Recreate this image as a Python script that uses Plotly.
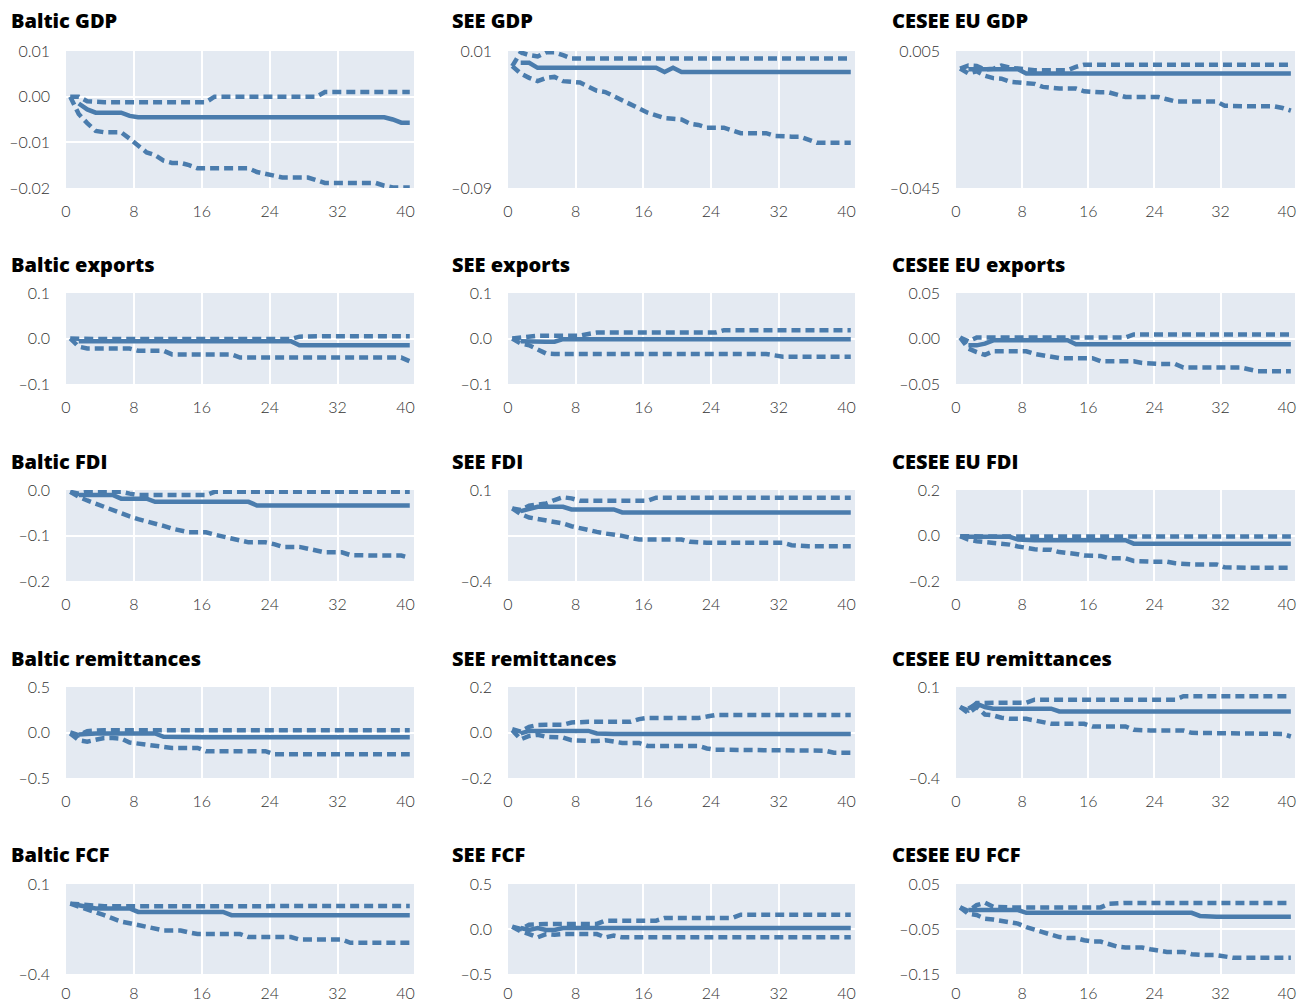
import plotly.graph_objects as go

# Horizon (quarters) and x-axis tick labels
periods = list(range(41))
x_tick_labels = [0, 8, 16, 24, 32, 40]

# ---------------- Baltic GDP ----------------
baltic_gdp_upper = [0, 0, -0.001, -0.0012, -0.0012, -0.0012, -0.0012, -0.0012, -0.0012, -0.0012,
                    -0.0012, -0.0012, -0.0012, -0.0012, -0.0012, -0.0012, -0.0012, 0, 0, 0,
                    0, 0, 0, 0, 0, 0, 0, 0, 0, 0,
                    0.001, 0.001, 0.001, 0.001, 0.001, 0.001, 0.001, 0.001, 0.001, 0.001, 0.001]
baltic_gdp_median = [None, -0.0015, -0.0028, -0.0035, -0.0035, -0.0035, -0.0035, -0.0042, -0.0045, -0.0045,
                     -0.0045, -0.0045, -0.0045, -0.0045, -0.0045, -0.0045, -0.0045, -0.0045, -0.0045, -0.0045,
                     -0.0045, -0.0045, -0.0045, -0.0045, -0.0045, -0.0045, -0.0045, -0.0045, -0.0045, -0.0045,
                     -0.0045, -0.0045, -0.0045, -0.0045, -0.0045, -0.0045, -0.0045, -0.0045, -0.005, -0.0057, -0.0057]
baltic_gdp_lower = [0, -0.0038, -0.0058, -0.0075, -0.0078, -0.0078, -0.0078, -0.0092, -0.0108, -0.0122,
                    -0.0128, -0.014, -0.0145, -0.0145, -0.015, -0.0157, -0.0157, -0.0157, -0.0157, -0.0157,
                    -0.0157, -0.0157, -0.0165, -0.0168, -0.0173, -0.0177, -0.0177, -0.0177, -0.0177, -0.0183,
                    -0.0189, -0.0189, -0.0189, -0.0189, -0.0189, -0.0189, -0.0189, -0.0195, -0.0199, -0.0199, -0.0199]

# ---------------- SEE GDP ----------------
see_gdp_upper = [-0.001, 0.009, 0.007, 0.006, 0.009, 0.009, 0.007, 0.0045, 0.0045, 0.0045,
                 0.0045, 0.0045, 0.0045, 0.0045, 0.0045, 0.0045, 0.0045, 0.0045, 0.0045, 0.0045,
                 0.0045, 0.0045, 0.0045, 0.0045, 0.0045, 0.0045, 0.0045, 0.0045, 0.0045, 0.0045,
                 0.0045, 0.0045, 0.0045, 0.0045, 0.0045, 0.0045, 0.0045, 0.0045, 0.0045, 0.0045, 0.0045]
see_gdp_median = [None, 0.0014, 0.0014, -0.0023, -0.0023, -0.0023, -0.0023, -0.0023, -0.0023, -0.0023,
                  -0.0023, -0.0023, -0.0023, -0.0023, -0.0023, -0.0023, -0.0023, -0.0023, -0.0054, -0.0023,
                  -0.0054, -0.0054, -0.0054, -0.0054, -0.0054, -0.0054, -0.0054, -0.0054, -0.0054, -0.0054,
                  -0.0054, -0.0054, -0.0054, -0.0054, -0.0054, -0.0054, -0.0054, -0.0054, -0.0054, -0.0054, -0.0054]
see_gdp_lower = [-0.001, -0.0064, -0.0096, -0.012, -0.0096, -0.0089, -0.012, -0.0125, -0.013, -0.016,
                 -0.019, -0.020, -0.023, -0.026, -0.029, -0.032, -0.035, -0.037, -0.039, -0.0395,
                 -0.040, -0.043, -0.044, -0.046, -0.046, -0.046, -0.048, -0.050, -0.050, -0.050,
                 -0.050, -0.052, -0.0525, -0.0525, -0.0525, -0.055, -0.057, -0.057, -0.057, -0.057, -0.057]

# ---------------- CESEE EU GDP ----------------
cesee_gdp_upper = [-0.0014, -0.0003, -0.0005, -0.0017, -0.0015, -0.0003, -0.0011, -0.0015, -0.002, -0.002,
                   -0.002, -0.002, -0.002, -0.002, -0.0008, 0, 0, 0, 0, 0,
                   0, 0, 0, 0, 0, 0, 0, 0, 0, 0,
                   0, 0, 0, 0, 0, 0, 0, 0, 0, 0, 0]
cesee_gdp_median = [None, -0.0017, -0.0017, -0.0017, -0.0017, -0.0017, -0.0017, -0.0017, -0.0032, -0.0032,
                    -0.0032, -0.0032, -0.0032, -0.0032, -0.0032, -0.0032, -0.0032, -0.0032, -0.0032, -0.0032,
                    -0.0032, -0.0032, -0.0032, -0.0032, -0.0032, -0.0032, -0.0032, -0.0032, -0.0032, -0.0032,
                    -0.0032, -0.0032, -0.0032, -0.0032, -0.0032, -0.0032, -0.0032, -0.0032, -0.0032, -0.0032, -0.0032]
cesee_gdp_lower = [-0.0014, -0.0032, -0.0024, -0.004, -0.0049, -0.0051, -0.0062, -0.0066, -0.0066, -0.007,
                   -0.0081, -0.0086, -0.0087, -0.0087, -0.0087, -0.0097, -0.0101, -0.0101, -0.0101, -0.0109,
                   -0.0118, -0.0118, -0.0118, -0.0118, -0.0118, -0.0126, -0.0134, -0.0134, -0.0134, -0.0134,
                   -0.0134, -0.0134, -0.015, -0.0152, -0.0152, -0.0152, -0.0152, -0.0152, -0.0152, -0.0158, -0.0168]

# ---------------- Baltic exports ----------------
baltic_exp_upper = [0, -0.001, -0.001, -0.001, -0.001, -0.001, -0.001, -0.001, -0.001, -0.001,
                    -0.001, -0.001, -0.001, -0.001, -0.001, -0.001, -0.001, -0.001, -0.001, -0.001,
                    -0.001, -0.001, -0.001, -0.001, -0.001, -0.001, -0.001, 0.004, 0.005, 0.005,
                    0.005, 0.005, 0.005, 0.005, 0.005, 0.005, 0.005, 0.005, 0.005, 0.005, 0.005]
baltic_exp_median = [None, -0.006, -0.006, -0.006, -0.006, -0.006, -0.006, -0.006, -0.006, -0.006,
                     -0.006, -0.006, -0.006, -0.006, -0.006, -0.006, -0.006, -0.006, -0.006, -0.006,
                     -0.006, -0.006, -0.006, -0.006, -0.006, -0.006, -0.006, -0.015, -0.015, -0.015,
                     -0.015, -0.015, -0.015, -0.015, -0.015, -0.015, -0.015, -0.015, -0.015, -0.015, -0.015]
baltic_exp_lower = [0, -0.018, -0.022, -0.022, -0.022, -0.022, -0.022, -0.022, -0.027, -0.027,
                    -0.027, -0.027, -0.035, -0.035, -0.035, -0.035, -0.035, -0.035, -0.035, -0.035,
                    -0.042, -0.042, -0.042, -0.042, -0.042, -0.042, -0.042, -0.042, -0.042, -0.042,
                    -0.042, -0.042, -0.042, -0.042, -0.042, -0.042, -0.042, -0.042, -0.042, -0.042, -0.05]

# ---------------- SEE exports ----------------
see_exp_upper = [0, 0.002, 0.006, 0.006, 0.006, 0.006, 0.006, 0.006, 0.006, 0.010,
                 0.013, 0.013, 0.013, 0.013, 0.013, 0.013, 0.013, 0.013, 0.013, 0.013,
                 0.013, 0.013, 0.013, 0.013, 0.013, 0.018, 0.018, 0.018, 0.018, 0.018,
                 0.018, 0.018, 0.018, 0.018, 0.018, 0.018, 0.018, 0.018, 0.018, 0.018, 0.018]
see_exp_median = [None, -0.006, -0.007, -0.007, -0.007, -0.007, -0.0015, -0.0015, -0.0015, -0.0015,
                  -0.0015, -0.0015, -0.0015, -0.0015, -0.0015, -0.0015, -0.0015, -0.0015, -0.0015, -0.0015,
                  -0.0015, -0.0015, -0.0015, -0.0015, -0.0015, -0.0015, -0.0015, -0.0015, -0.0015, -0.0015,
                  -0.0015, -0.0015, -0.0015, -0.0015, -0.0015, -0.0015, -0.0015, -0.0015, -0.0015, -0.0015, -0.0015]
see_exp_lower = [0, -0.011, -0.015, -0.025, -0.033, -0.034, -0.034, -0.034, -0.034, -0.034,
                 -0.034, -0.034, -0.034, -0.034, -0.034, -0.034, -0.034, -0.034, -0.034, -0.034,
                 -0.034, -0.034, -0.034, -0.034, -0.034, -0.034, -0.034, -0.034, -0.034, -0.034,
                 -0.034, -0.037, -0.040, -0.040, -0.040, -0.040, -0.040, -0.040, -0.040, -0.040, -0.040]

# ---------------- CESEE EU exports ----------------
cesee_exp_upper = [0.001, -0.003, 0.001, 0.001, 0.001, 0.001, 0.001, 0.001, 0.001, 0.001,
                   0.001, 0.001, 0.001, 0.001, 0.001, 0.001, 0.001, 0.001, 0.001, 0.001,
                   0.001, 0.0045, 0.0045, 0.0045, 0.0045, 0.0045, 0.0045, 0.0045, 0.0045, 0.0045,
                   0.0045, 0.0045, 0.0045, 0.0045, 0.0045, 0.0045, 0.0045, 0.0045, 0.0045, 0.0045, 0.0045]
cesee_exp_median = [None, -0.0075, -0.0075, -0.0056, -0.002, -0.002, -0.002, -0.002, -0.002, -0.002,
                    -0.002, -0.002, -0.002, -0.002, -0.0063, -0.0063, -0.0063, -0.0063, -0.0063, -0.0063,
                    -0.0063, -0.0063, -0.0063, -0.0063, -0.0063, -0.0063, -0.0063, -0.0063, -0.0063, -0.0063,
                    -0.0063, -0.0063, -0.0063, -0.0063, -0.0063, -0.0063, -0.0063, -0.0063, -0.0063, -0.0063, -0.0063]
cesee_exp_lower = [0.001, -0.011, -0.015, -0.018, -0.014, -0.014, -0.014, -0.014, -0.014, -0.017,
                   -0.0187, -0.0194, -0.0216, -0.0216, -0.0216, -0.0216, -0.0216, -0.025, -0.025, -0.025,
                   -0.025, -0.025, -0.027, -0.028, -0.028, -0.028, -0.028, -0.032, -0.032, -0.032,
                   -0.032, -0.032, -0.032, -0.032, -0.032, -0.034, -0.036, -0.036, -0.036, -0.036, -0.036]

# ---------------- Baltic FDI ----------------
baltic_fdi_upper = [-0.004, -0.008, -0.004, -0.004, -0.004, -0.004, -0.004, -0.008, -0.011, -0.011,
                    -0.011, -0.011, -0.011, -0.011, -0.011, -0.011, -0.011, -0.004, -0.004, -0.004,
                    -0.004, -0.004, -0.004, -0.004, -0.004, -0.004, -0.004, -0.004, -0.004, -0.004,
                    -0.004, -0.004, -0.004, -0.004, -0.004, -0.004, -0.004, -0.004, -0.004, -0.004, -0.004]
baltic_fdi_median = [None, -0.011, -0.011, -0.011, -0.011, -0.011, -0.019, -0.019, -0.019, -0.019,
                     -0.026, -0.026, -0.026, -0.026, -0.026, -0.026, -0.026, -0.026, -0.026, -0.026,
                     -0.026, -0.026, -0.034, -0.034, -0.034, -0.034, -0.034, -0.034, -0.034, -0.034,
                     -0.034, -0.034, -0.034, -0.034, -0.034, -0.034, -0.034, -0.034, -0.034, -0.034, -0.034]
baltic_fdi_lower = [-0.004, -0.015, -0.023, -0.030, -0.038, -0.045, -0.053, -0.058, -0.064, -0.069,
                    -0.072, -0.079, -0.085, -0.089, -0.093, -0.093, -0.093, -0.098, -0.102, -0.107,
                    -0.112, -0.115, -0.115, -0.115, -0.119, -0.125, -0.125, -0.125, -0.129, -0.134,
                    -0.137, -0.137, -0.137, -0.143, -0.144, -0.144, -0.144, -0.144, -0.144, -0.144, -0.149]

# ---------------- SEE FDI ----------------
see_fdi_upper = [-0.001, -0.010, 0.014, 0.023, 0.026, 0.045, 0.060, 0.054, 0.041, 0.041,
                 0.041, 0.041, 0.041, 0.041, 0.041, 0.041, 0.041, 0.058, 0.058, 0.058,
                 0.058, 0.058, 0.058, 0.058, 0.058, 0.058, 0.058, 0.058, 0.058, 0.058,
                 0.058, 0.058, 0.058, 0.058, 0.058, 0.058, 0.058, 0.058, 0.058, 0.058, 0.058]
see_fdi_median = [None, -0.016, -0.001, 0.008, 0.008, 0.008, 0.008, -0.007, -0.007, -0.007,
                  -0.007, -0.007, -0.007, -0.023, -0.023, -0.023, -0.023, -0.023, -0.023, -0.023,
                  -0.023, -0.023, -0.023, -0.023, -0.023, -0.023, -0.023, -0.023, -0.023, -0.023,
                  -0.023, -0.023, -0.023, -0.023, -0.023, -0.023, -0.023, -0.023, -0.023, -0.023, -0.023]
see_fdi_lower = [-0.001, -0.032, -0.051, -0.060, -0.065, -0.075, -0.084, -0.099, -0.111, -0.121,
                 -0.130, -0.139, -0.144, -0.152, -0.163, -0.172, -0.172, -0.172, -0.172, -0.172,
                 -0.172, -0.185, -0.190, -0.190, -0.190, -0.190, -0.190, -0.190, -0.190, -0.190,
                 -0.190, -0.190, -0.190, -0.203, -0.209, -0.209, -0.209, -0.209, -0.209, -0.209, -0.209]

# ---------------- CESEE EU FDI ----------------
cesee_fdi_upper = [-0.003, -0.0045, -0.0045, -0.0045, -0.0045, -0.0045, -0.0045, -0.0045, -0.0045, -0.0045,
                   -0.0045, -0.0045, -0.0045, -0.0045, -0.0045, -0.0045, -0.0045, -0.0045, -0.0045, -0.0045,
                   -0.0045, -0.0045, -0.0045, -0.0045, -0.0045, -0.0045, -0.0045, -0.0045, -0.0045, -0.0045,
                   -0.0045, -0.0045, -0.0045, -0.0045, -0.0045, -0.0045, -0.0045, -0.0045, -0.0045, -0.0045, -0.0045]
cesee_fdi_median = [None, -0.006, -0.006, -0.006, -0.006, -0.006, -0.006, -0.018, -0.021, -0.021,
                    -0.021, -0.021, -0.021, -0.021, -0.021, -0.021, -0.021, -0.021, -0.021, -0.021,
                    -0.021, -0.036, -0.036, -0.036, -0.036, -0.036, -0.036, -0.036, -0.036, -0.036,
                    -0.036, -0.036, -0.036, -0.036, -0.036, -0.036, -0.036, -0.036, -0.036, -0.036, -0.036]
cesee_fdi_lower = [-0.003, -0.018, -0.025, -0.028, -0.033, -0.033, -0.040, -0.048, -0.055, -0.060,
                   -0.063, -0.063, -0.073, -0.075, -0.081, -0.088, -0.090, -0.090, -0.100, -0.100,
                   -0.100, -0.112, -0.115, -0.115, -0.115, -0.115, -0.122, -0.127, -0.127, -0.127,
                   -0.127, -0.127, -0.140, -0.142, -0.142, -0.142, -0.142, -0.142, -0.142, -0.142, -0.142]

# ---------------- Baltic remittances ----------------
baltic_rem_upper = [0, -0.03, 0.015, 0.026, 0.026, 0.026, 0.026, 0.026, 0.026, 0.026,
                    0.026, 0.026, 0.026, 0.026, 0.026, 0.026, 0.026, 0.026, 0.026, 0.026,
                    0.026, 0.026, 0.026, 0.026, 0.026, 0.026, 0.026, 0.026, 0.026, 0.026,
                    0.026, 0.026, 0.026, 0.026, 0.026, 0.026, 0.026, 0.026, 0.026, 0.026, 0.026]
baltic_rem_median = [None, -0.022, -0.011, -0.011, -0.011, -0.011, -0.011, -0.011, -0.011, -0.011,
                     -0.011, -0.048, -0.051, -0.051, -0.051, -0.051, -0.051, -0.051, -0.051, -0.051,
                     -0.051, -0.051, -0.051, -0.051, -0.051, -0.051, -0.051, -0.051, -0.051, -0.051,
                     -0.051, -0.051, -0.051, -0.051, -0.051, -0.051, -0.051, -0.051, -0.051, -0.051, -0.051]
baltic_rem_lower = [-0.011, -0.085, -0.100, -0.077, -0.060, -0.060, -0.067, -0.110, -0.125, -0.140,
                    -0.147, -0.158, -0.169, -0.169, -0.169, -0.169, -0.206, -0.206, -0.206, -0.206,
                    -0.206, -0.206, -0.206, -0.206, -0.239, -0.239, -0.239, -0.239, -0.239, -0.239,
                    -0.239, -0.239, -0.239, -0.239, -0.239, -0.239, -0.239, -0.239, -0.239, -0.239, -0.239]

# ---------------- SEE remittances ----------------
see_rem_upper = [0.015, 0.004, 0.025, 0.033, 0.034, 0.034, 0.034, 0.044, 0.047, 0.047,
                 0.047, 0.047, 0.047, 0.047, 0.047, 0.059, 0.064, 0.064, 0.064, 0.064,
                 0.064, 0.064, 0.064, 0.070, 0.077, 0.077, 0.077, 0.077, 0.077, 0.077,
                 0.077, 0.077, 0.077, 0.077, 0.077, 0.077, 0.077, 0.077, 0.077, 0.077, 0.077]
see_rem_median = [None, -0.004, 0.007, 0.007, 0.007, 0.007, 0.007, 0.007, 0.007, 0.007,
                  -0.004, -0.007, -0.007, -0.007, -0.007, -0.007, -0.007, -0.007, -0.007, -0.007,
                  -0.007, -0.007, -0.007, -0.007, -0.007, -0.007, -0.007, -0.007, -0.007, -0.007,
                  -0.007, -0.007, -0.007, -0.007, -0.007, -0.007, -0.007, -0.007, -0.007, -0.007, -0.007]
see_rem_lower = [0.010, -0.030, -0.015, -0.010, -0.019, -0.022, -0.022, -0.034, -0.037, -0.037,
                 -0.037, -0.034, -0.040, -0.046, -0.046, -0.046, -0.059, -0.059, -0.059, -0.059,
                 -0.059, -0.059, -0.059, -0.070, -0.076, -0.076, -0.076, -0.076, -0.076, -0.076,
                 -0.076, -0.076, -0.076, -0.076, -0.076, -0.076, -0.076, -0.080, -0.089, -0.089, -0.089]

# ---------------- CESEE EU remittances ----------------
cesee_rem_upper = [-0.010, -0.029, 0.012, 0.014, 0.014, 0.014, 0.014, 0.014, 0.014, 0.030,
                   0.030, 0.030, 0.030, 0.030, 0.030, 0.030, 0.030, 0.030, 0.030, 0.030,
                   0.030, 0.030, 0.030, 0.030, 0.030, 0.030, 0.030, 0.049, 0.049, 0.049,
                   0.049, 0.049, 0.049, 0.049, 0.049, 0.049, 0.049, 0.049, 0.049, 0.049, 0.049]
cesee_rem_median = [None, -0.019, 0.008, -0.010, -0.019, -0.019, -0.019, -0.019, -0.019, -0.019,
                    -0.019, -0.019, -0.034, -0.034, -0.034, -0.034, -0.034, -0.034, -0.034, -0.034,
                    -0.034, -0.034, -0.034, -0.034, -0.034, -0.034, -0.034, -0.034, -0.034, -0.034,
                    -0.034, -0.034, -0.034, -0.034, -0.034, -0.034, -0.034, -0.034, -0.034, -0.034, -0.034]
cesee_rem_lower = [-0.010, -0.043, -0.010, -0.051, -0.056, -0.069, -0.075, -0.075, -0.075, -0.084,
                   -0.093, -0.102, -0.102, -0.102, -0.102, -0.102, -0.117, -0.117, -0.117, -0.117,
                   -0.117, -0.135, -0.139, -0.139, -0.139, -0.139, -0.139, -0.139, -0.152, -0.152,
                   -0.152, -0.152, -0.152, -0.152, -0.152, -0.152, -0.152, -0.152, -0.152, -0.158, -0.172]

# ---------------- Baltic FCF ----------------
baltic_fcf_upper = [-0.009, -0.013, -0.018, -0.024, -0.024, -0.024, -0.024, -0.024, -0.024, -0.024,
                    -0.024, -0.027, -0.022, -0.022, -0.022, -0.022, -0.022, -0.022, -0.022, -0.022,
                    -0.022, -0.022, -0.022, -0.022, -0.022, -0.022, -0.022, -0.022, -0.022, -0.022,
                    -0.022, -0.022, -0.022, -0.022, -0.022, -0.022, -0.022, -0.022, -0.022, -0.022, -0.022]
baltic_fcf_median = [None, -0.018, -0.027, -0.036, -0.036, -0.036, -0.036, -0.036, -0.055, -0.055,
                     -0.055, -0.055, -0.055, -0.055, -0.055, -0.055, -0.055, -0.055, -0.055, -0.073,
                     -0.073, -0.073, -0.073, -0.073, -0.073, -0.073, -0.073, -0.073, -0.073, -0.073,
                     -0.073, -0.073, -0.073, -0.073, -0.073, -0.073, -0.073, -0.073, -0.073, -0.073, -0.073]
baltic_fcf_lower = [-0.009, -0.024, -0.045, -0.055, -0.073, -0.091, -0.109, -0.118, -0.127, -0.140,
                    -0.151, -0.158, -0.158, -0.158, -0.169, -0.178, -0.178, -0.178, -0.178, -0.178,
                    -0.178, -0.195, -0.195, -0.195, -0.195, -0.195, -0.195, -0.209, -0.209, -0.209,
                    -0.209, -0.209, -0.209, -0.227, -0.227, -0.227, -0.227, -0.227, -0.227, -0.227, -0.227]

# ---------------- SEE FCF ----------------
see_fcf_upper = [0.026, 0, 0.048, 0.056, 0.056, 0.056, 0.056, 0.056, 0.056, 0.056,
                 0.056, 0.093, 0.093, 0.093, 0.093, 0.093, 0.093, 0.093, 0.122, 0.122,
                 0.122, 0.122, 0.122, 0.122, 0.122, 0.122, 0.122, 0.159, 0.159, 0.159,
                 0.159, 0.159, 0.159, 0.159, 0.159, 0.159, 0.159, 0.159, 0.159, 0.159, 0.159]
see_fcf_median = [None, 0.011, -0.011, 0.011, -0.011, -0.011, 0.011, 0.011, 0.011, 0.011,
                  0.011, 0.011, 0.011, 0.011, 0.011, 0.011, 0.011, 0.011, 0.011, 0.011,
                  0.011, 0.011, 0.011, 0.011, 0.011, 0.011, 0.011, 0.011, 0.011, 0.011,
                  0.011, 0.011, 0.011, 0.011, 0.011, 0.011, 0.011, 0.011, 0.011, 0.011, 0.011]
see_fcf_lower = [0.026, -0.026, -0.056, -0.093, -0.056, -0.063, -0.056, -0.056, -0.056, -0.056,
                 -0.056, -0.093, -0.074, -0.093, -0.093, -0.093, -0.093, -0.093, -0.093, -0.093,
                 -0.093, -0.093, -0.093, -0.093, -0.093, -0.093, -0.093, -0.093, -0.093, -0.093,
                 -0.093, -0.093, -0.093, -0.093, -0.093, -0.093, -0.093, -0.093, -0.093, -0.093, -0.093]

# ---------------- CESEE EU FCF ----------------
cesee_fcf_upper = [-0.002, -0.010, 0.003, 0.0085, -0.0005, -0.002, -0.002, -0.002, -0.002, -0.002,
                   -0.002, -0.002, -0.002, -0.002, -0.002, -0.002, -0.002, -0.002, 0.006, 0.008,
                   0.008, 0.008, 0.008, 0.008, 0.008, 0.008, 0.008, 0.008, 0.008, 0.008,
                   0.008, 0.008, 0.008, 0.008, 0.008, 0.008, 0.008, 0.008, 0.008, 0.008, 0.008]
cesee_fcf_median = [None, -0.008, -0.008, -0.008, -0.008, -0.008, -0.008, -0.008, -0.014, -0.014,
                    -0.014, -0.014, -0.014, -0.014, -0.014, -0.014, -0.014, -0.014, -0.014, -0.014,
                    -0.014, -0.014, -0.014, -0.014, -0.014, -0.014, -0.014, -0.014, -0.014, -0.021,
                    -0.023, -0.023, -0.023, -0.023, -0.023, -0.023, -0.023, -0.023, -0.023, -0.023, -0.023]
cesee_fcf_lower = [-0.002, -0.016, -0.019, -0.027, -0.029, -0.032, -0.035, -0.038, -0.046, -0.052,
                   -0.057, -0.062, -0.068, -0.070, -0.070, -0.075, -0.078, -0.078, -0.084, -0.089,
                   -0.091, -0.091, -0.091, -0.095, -0.099, -0.101, -0.101, -0.101, -0.106, -0.108,
                   -0.108, -0.108, -0.112, -0.114, -0.114, -0.114, -0.114, -0.114, -0.114, -0.114, -0.114]

# Panel titles and y-axis settings (range, tick values, tick labels), row by row
panels = [
    ("Baltic GDP", baltic_gdp_upper, baltic_gdp_median, baltic_gdp_lower,
     [-0.02, 0.01], [0.01, 0.0, -0.01, -0.02], ["0.01", "0.00", "–0.01", "–0.02"]),
    ("SEE GDP", see_gdp_upper, see_gdp_median, see_gdp_lower,
     [-0.09, 0.01], [0.01, -0.09], ["0.01", "–0.09"]),
    ("CESEE EU GDP", cesee_gdp_upper, cesee_gdp_median, cesee_gdp_lower,
     [-0.045, 0.005], [0.005, -0.045], ["0.005", "–0.045"]),
    ("Baltic exports", baltic_exp_upper, baltic_exp_median, baltic_exp_lower,
     [-0.1, 0.1], [0.1, 0.0, -0.1], ["0.1", "0.0", "–0.1"]),
    ("SEE exports", see_exp_upper, see_exp_median, see_exp_lower,
     [-0.1, 0.1], [0.1, 0.0, -0.1], ["0.1", "0.0", "–0.1"]),
    ("CESEE EU exports", cesee_exp_upper, cesee_exp_median, cesee_exp_lower,
     [-0.05, 0.05], [0.05, 0.0, -0.05], ["0.05", "0.00", "–0.05"]),
    ("Baltic FDI", baltic_fdi_upper, baltic_fdi_median, baltic_fdi_lower,
     [-0.2, 0.0], [0.0, -0.1, -0.2], ["0.0", "–0.1", "–0.2"]),
    ("SEE FDI", see_fdi_upper, see_fdi_median, see_fdi_lower,
     [-0.4, 0.1], [0.1, -0.15, -0.4], ["0.1", "", "–0.4"]),
    ("CESEE EU FDI", cesee_fdi_upper, cesee_fdi_median, cesee_fdi_lower,
     [-0.2, 0.2], [0.2, 0.0, -0.2], ["0.2", "0.0", "–0.2"]),
    ("Baltic remittances", baltic_rem_upper, baltic_rem_median, baltic_rem_lower,
     [-0.5, 0.5], [0.5, 0.0, -0.5], ["0.5", "0.0", "–0.5"]),
    ("SEE remittances", see_rem_upper, see_rem_median, see_rem_lower,
     [-0.2, 0.2], [0.2, 0.0, -0.2], ["0.2", "0.0", "–0.2"]),
    ("CESEE EU remittances", cesee_rem_upper, cesee_rem_median, cesee_rem_lower,
     [-0.4, 0.1], [0.1, -0.4], ["0.1", "–0.4"]),
    ("Baltic FCF", baltic_fcf_upper, baltic_fcf_median, baltic_fcf_lower,
     [-0.4, 0.1], [0.1, -0.4], ["0.1", "–0.4"]),
    ("SEE FCF", see_fcf_upper, see_fcf_median, see_fcf_lower,
     [-0.5, 0.5], [0.5, 0.0, -0.5], ["0.5", "0.0", "–0.5"]),
    ("CESEE EU FCF", cesee_fcf_upper, cesee_fcf_median, cesee_fcf_lower,
     [-0.15, 0.05], [0.05, -0.05, -0.15], ["0.05", "–0.05", "–0.15"]),
]

# Page geometry (pixels)
W, H = 1299, 1004
col_boxes = [(66, 414), (508, 855), (956, 1295)]
row_boxes = [(51, 188), (293, 384), (490, 581), (687, 778), (884, 974)]
title_x = [9, 450, 890]
title_y = [21, 264, 461, 658, 854]
x_label_standoff = [12, 12, 12, 12, 8]   # bottom row kept inside the page

LINE = "#4a7cad"
BG = "#e4eaf2"
TICK_FONT = dict(family="Lato, 'Open Sans', sans-serif", size=16, color="#333333", weight=300)
TITLE_FONT = dict(family="'Open Sans', Lato, sans-serif", size=20, color="#000000", weight=800)

fig = go.Figure()
layout = {}
annotations = []

for i, (title, upper, median, lower, yrange, yticks, ylabels) in enumerate(panels):
    r, c = divmod(i, 3)
    n = i + 1
    xa = "x" if n == 1 else f"x{n}"
    ya = "y" if n == 1 else f"y{n}"

    for series, dash in ((upper, "9px,5px"), (lower, "9px,5px"), (median, "solid")):
        fig.add_trace(go.Scatter(
            x=periods, y=series, mode="lines",
            line=dict(color=LINE, width=4.5, dash=dash),
            xaxis=xa, yaxis=ya, showlegend=False, hoverinfo="skip",
        ))

    x0, x1 = col_boxes[c]
    y0, y1 = row_boxes[r]
    # quarters are categories; labels and gridlines sit on category boundaries,
    # with interior gridlines only
    layout["xaxis" if n == 1 else f"xaxis{n}"] = dict(
        domain=[x0 / W, x1 / W], anchor=ya,
        range=[-0.5, 40.5],
        tickvals=[v - 0.5 for v in x_tick_labels],
        ticktext=[str(v) for v in x_tick_labels],
        showgrid=False,
        minor=dict(tickvals=[v - 0.5 for v in x_tick_labels[1:-1]],
                   showgrid=True, gridcolor="white", gridwidth=1.5, ticks=""),
        zeroline=False, showline=False, ticks="", automargin=False,
        tickfont=TICK_FONT, ticklabelstandoff=x_label_standoff[r],
    )
    layout["yaxis" if n == 1 else f"yaxis{n}"] = dict(
        domain=[1 - y1 / H, 1 - y0 / H], anchor=xa,
        range=yrange, tickvals=yticks, ticktext=ylabels,
        showgrid=True, gridcolor="white", gridwidth=1.5,
        zeroline=False, showline=False, ticks="", automargin=False,
        tickfont=TICK_FONT, ticklabelstandoff=15,
    )
    annotations.append(dict(
        text=title, xref="paper", yref="paper",
        x=title_x[c] / W, y=1 - title_y[r] / H,
        xanchor="left", yanchor="middle", showarrow=False,
        font=TITLE_FONT,
    ))

fig.update_layout(
    width=W, height=H,
    margin=dict(l=0, r=0, t=0, b=0),
    paper_bgcolor="white", plot_bgcolor=BG,
    annotations=annotations,
    **layout,
)

fig.write_html("out.html")
